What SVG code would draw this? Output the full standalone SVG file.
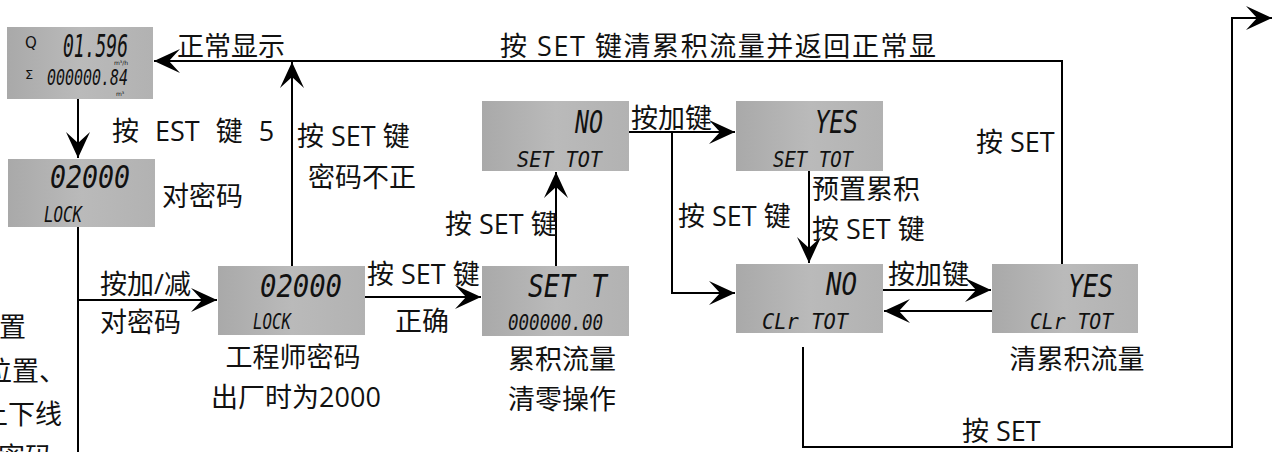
<svg xmlns="http://www.w3.org/2000/svg" width="1281" height="452" viewBox="0 0 1281 452">
<defs>
<linearGradient id="lcdg" x1="0" y1="0" x2="1" y2="0">
<stop offset="0" stop-color="#a9a9a9"/>
<stop offset="0.5" stop-color="#bababa"/>
<stop offset="1" stop-color="#b2b2b2"/>
</linearGradient>
<marker id="ah" markerUnits="userSpaceOnUse" viewBox="-28 -14 30 28" markerWidth="30" markerHeight="28" refX="0" refY="0" orient="auto">
<path d="M0,0 L-26,-12 L-15,0 L-26,12 Z" fill="#000"/>
</marker>
</defs>
<style>
.lcd{fill:url(#lcdg);}
.seg{font-family:"DejaVu Sans Mono",monospace;font-style:italic;fill:#111;}
.big{font-size:32px;}
.sm{font-size:22px;}
.unit{font-family:"DejaVu Sans",sans-serif;fill:#111;}
.lbl{font-family:"Open Sans","Noto Sans CJK SC",sans-serif;font-size:27px;fill:#111;}
.ln{fill:none;stroke:#000;stroke-width:2;}
.ar{marker-end:url(#ah);}
</style>
<rect width="1281" height="452" fill="#fff"/>

<g id="connectors">
<path class="ln ar" d="M1062,264 V61 H154"/>
<path class="ln ar" d="M292,266 V62"/>
<path class="ln ar" d="M78,99 V158"/>
<path class="ln" d="M78,227 V452"/>
<path class="ln ar" d="M78,300 H217"/>
<path class="ln ar" d="M365,297 H481"/>
<path class="ln ar" d="M556,266 V172"/>
<path class="ln ar" d="M629,132 H735"/>
<path class="ln ar" d="M672,132 V293 H735"/>
<path class="ln ar" d="M809,171 V263"/>
<path class="ln ar" d="M883,290 H991"/>
<path class="ln ar" d="M992,311 H884"/>
<path class="ln ar" d="M803,347 V447 H1232 V18 H1272"/>
</g>

<g id="lcd1">
<rect class="lcd" x="7" y="27" width="146" height="72"/>
<text class="unit" x="25" y="48" font-size="15">Q</text>
<text class="seg big" x="63" y="57" textLength="65" lengthAdjust="spacingAndGlyphs">01.596</text>
<text class="unit" x="114" y="65" font-size="6">m³/h</text>
<text class="unit" x="25" y="79" font-size="13">Σ</text>
<text class="seg sm" x="47" y="85" textLength="81" lengthAdjust="spacingAndGlyphs">000000.84</text>
<text class="unit" x="116" y="96" font-size="6">m³</text>
</g>

<g id="lcd2">
<rect class="lcd" x="8" y="159" width="147" height="68"/>
<text class="seg big" x="50" y="188" textLength="80" lengthAdjust="spacingAndGlyphs">02000</text>
<text class="seg sm" x="44" y="222" textLength="38" lengthAdjust="spacingAndGlyphs">LOCK</text>
</g>

<g id="lcd3">
<rect class="lcd" x="218" y="266" width="147" height="69"/>
<text class="seg big" x="260" y="297" textLength="82" lengthAdjust="spacingAndGlyphs">02000</text>
<text class="seg sm" x="253" y="329" textLength="38" lengthAdjust="spacingAndGlyphs">LOCK</text>
</g>

<g id="lcd4">
<rect class="lcd" x="482" y="266" width="147" height="70"/>
<text class="seg big" x="528" y="297" textLength="79" lengthAdjust="spacingAndGlyphs">SET T</text>
<text class="seg sm" x="508" y="330" textLength="95" lengthAdjust="spacingAndGlyphs">000000.00</text>
</g>

<g id="lcd5">
<rect class="lcd" x="482" y="101" width="147" height="70"/>
<text class="seg big" x="575" y="133" textLength="28" lengthAdjust="spacingAndGlyphs">NO</text>
<text class="seg sm" x="517" y="167" textLength="85" lengthAdjust="spacingAndGlyphs">SET TOT</text>
</g>

<g id="lcd6">
<rect class="lcd" x="736" y="101" width="147" height="70"/>
<text class="seg big" x="815" y="133" textLength="43" lengthAdjust="spacingAndGlyphs">YES</text>
<text class="seg sm" x="773" y="167" textLength="80" lengthAdjust="spacingAndGlyphs">SET TOT</text>
</g>

<g id="lcd7">
<rect class="lcd" x="736" y="264" width="147" height="69"/>
<text class="seg big" x="826" y="295" textLength="31" lengthAdjust="spacingAndGlyphs">NO</text>
<text class="seg sm" x="762" y="329" textLength="86" lengthAdjust="spacingAndGlyphs">CLr TOT</text>
</g>

<g id="lcd8">
<rect class="lcd" x="992" y="264" width="146" height="69"/>
<text class="seg big" x="1068" y="297" textLength="45" lengthAdjust="spacingAndGlyphs">YES</text>
<text class="seg sm" x="1030" y="329" textLength="83" lengthAdjust="spacingAndGlyphs">CLr TOT</text>
</g>

<g id="labels">
<text class="lbl" x="177" y="56">正常显示</text>
<text class="lbl" x="500" y="56" textLength="436">按 SET 键清累积流量并返回正常显</text>
<text class="lbl" x="297" y="146">按 SET 键</text>
<text class="lbl" x="308" y="187">密码不正</text>
<text class="lbl" x="112" y="141" word-spacing="9">按 EST 键 5</text>
<text class="lbl" x="162" y="206">对密码</text>
<text class="lbl" x="100" y="294">按加/减</text>
<text class="lbl" x="100" y="332">对密码</text>
<text class="lbl" x="293" y="367" text-anchor="middle">工程师密码</text>
<text class="lbl" x="296" y="407" text-anchor="middle">出厂时为2000</text>
<text class="lbl" x="367" y="284">按 SET 键</text>
<text class="lbl" x="395" y="331">正确</text>
<text class="lbl" x="562" y="369" text-anchor="middle">累积流量</text>
<text class="lbl" x="562" y="409" text-anchor="middle">清零操作</text>
<text class="lbl" x="445" y="234">按 SET 键</text>
<text class="lbl" x="631" y="128">按加键</text>
<text class="lbl" x="678" y="226">按 SET 键</text>
<text class="lbl" x="812" y="199">预置累积</text>
<text class="lbl" x="812" y="239">按 SET 键</text>
<text class="lbl" x="976" y="152">按 SET</text>
<text class="lbl" x="888" y="284">按加键</text>
<text class="lbl" x="1077" y="369" text-anchor="middle">清累积流量</text>
<text class="lbl" x="962" y="441">按 SET</text>
<text class="lbl" x="26" y="337" text-anchor="end">置</text>
<text class="lbl" x="66" y="381" text-anchor="end">位置、</text>
<text class="lbl" x="62" y="424" text-anchor="end">上下线</text>
<text class="lbl" x="52" y="467" text-anchor="end">密码</text>
</g>
</svg>
